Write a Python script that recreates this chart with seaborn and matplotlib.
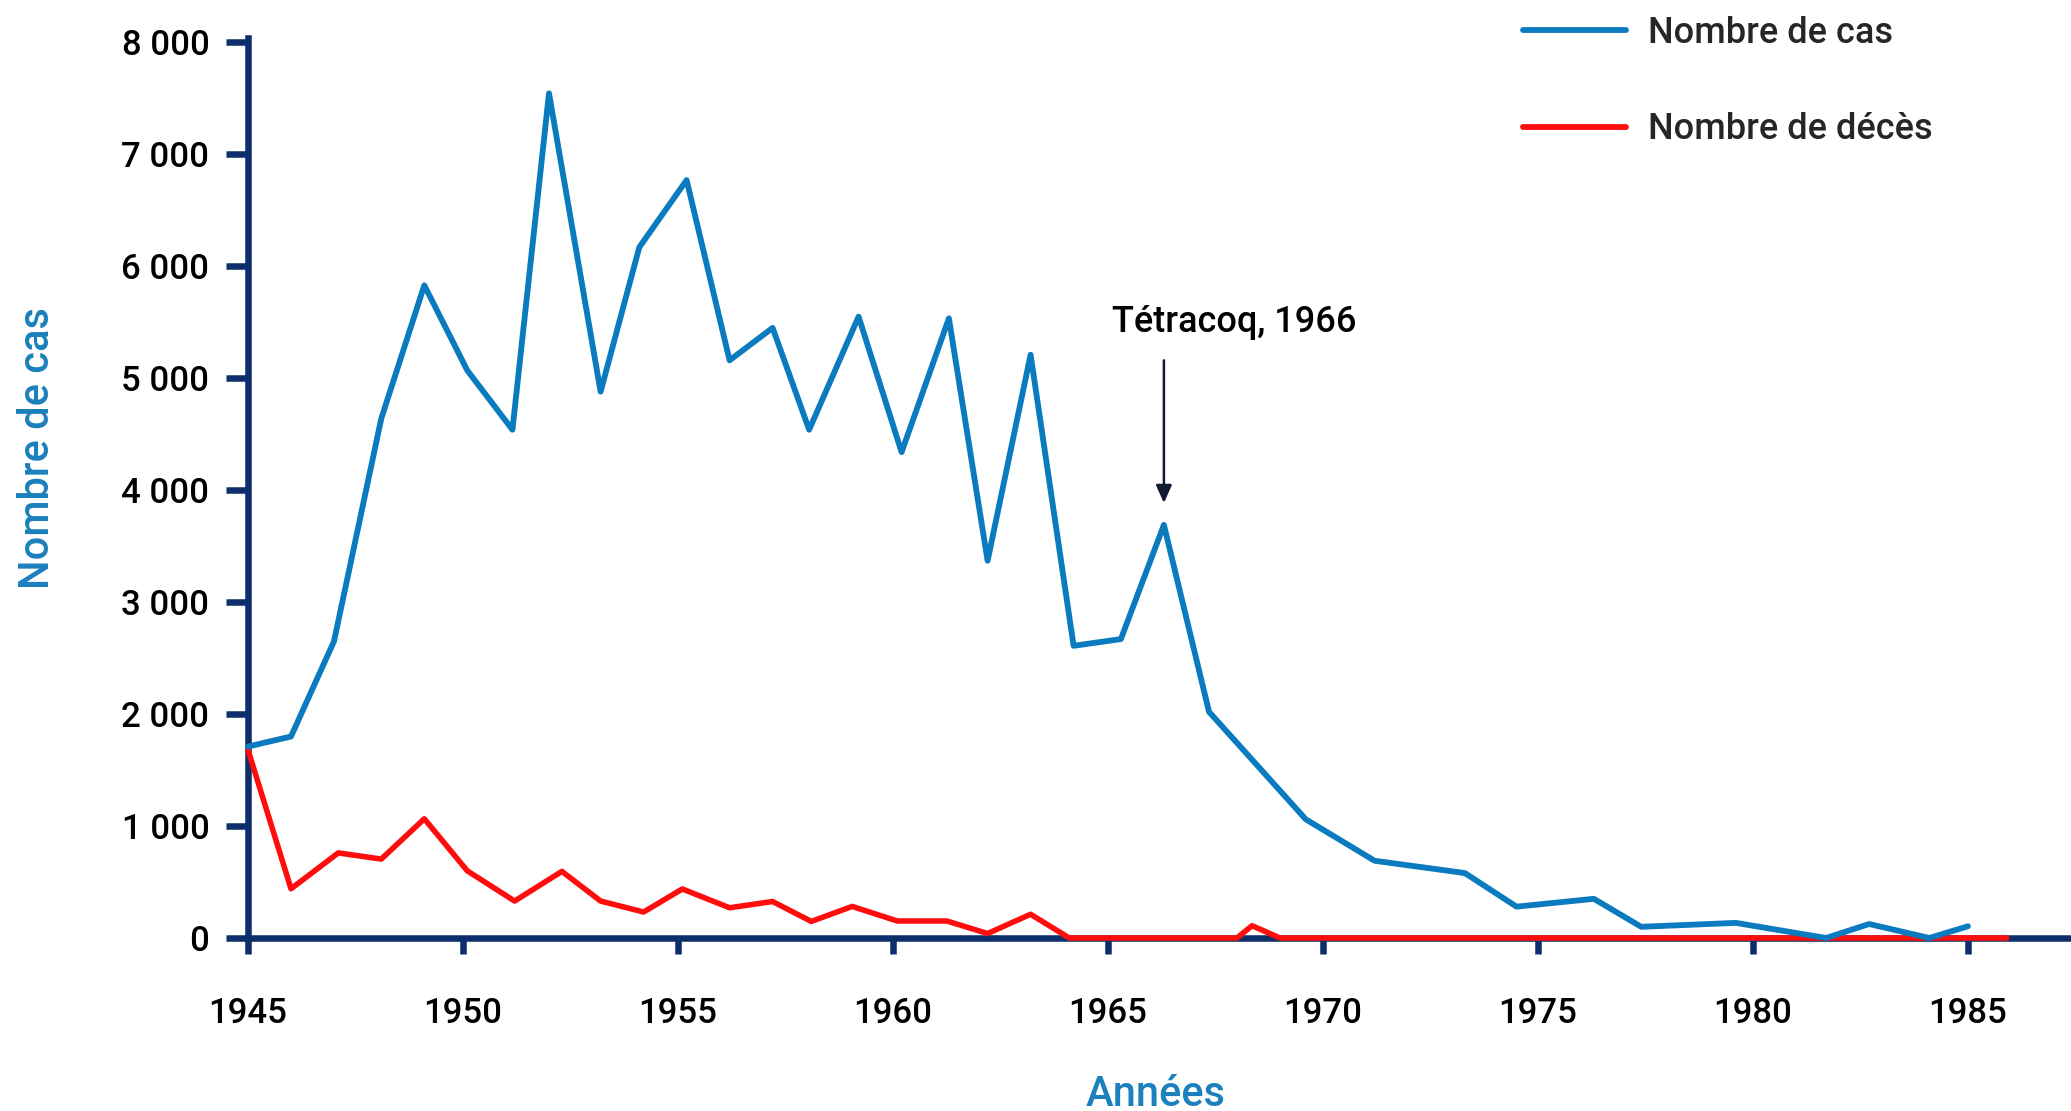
import matplotlib
matplotlib.use("Agg")
import matplotlib.pyplot as plt
import pandas as pd
import seaborn as sns

# ---------------- data ----------------
case_years = [1945.0, 1946.0, 1947.0, 1948.1, 1949.1, 1950.1, 1951.15, 1952.0,
              1953.2, 1954.1, 1955.2, 1956.2, 1957.2, 1958.05, 1959.2, 1960.2,
              1961.3, 1962.2, 1963.2, 1964.2, 1965.3, 1966.3, 1967.35, 1969.6,
              1971.2, 1973.3, 1974.5, 1976.3, 1977.4, 1979.6, 1981.7, 1982.7,
              1984.1, 1985.0]
case_counts = [1710, 1800, 2650, 4640, 5830, 5070, 4540, 7545,
               4880, 6170, 6770, 5160, 5450, 4540, 5550, 4340,
               5535, 3370, 5210, 2610, 2670, 3690, 2020, 1060,
               690, 580, 280, 350, 100, 135, 0, 125,
               0, 105]

death_years = [1945.0, 1946.0, 1947.1, 1948.1, 1949.1, 1950.1, 1951.2, 1952.3,
               1953.2, 1954.2, 1955.1, 1956.2, 1957.2, 1958.1, 1959.05, 1960.1,
               1961.25, 1962.2, 1963.2, 1964.1, 1968.0, 1968.35, 1969.0, 1985.9]
death_counts = [1680, 440, 760, 705, 1065, 600, 330, 595,
                330, 232, 438, 270, 326, 148, 282, 152,
                152, 40, 212, 0, 0, 110, 0, 0]

series_names = ["Nombre de cas", "Nombre de décès"]
y_ticks = [0, 1000, 2000, 3000, 4000, 5000, 6000, 7000, 8000]
y_tick_labels = ["0", "1 000", "2 000", "3 000", "4 000", "5 000", "6 000", "7 000", "8 000"]
x_ticks = [1945, 1950, 1955, 1960, 1965, 1970, 1975, 1980, 1985]
x_tick_labels = ["1945", "1950", "1955", "1960", "1965", "1970", "1975", "1980", "1985"]
x_title = "Années"
y_title = "Nombre de cas"
annotation_text = "Tétracoq, 1966"
annotated_index = 21  # the 1966 peak

# ---------------- style ----------------
BLUE = "#0b7bbf"
RED = "#ff0d0d"
NAVY = "#0c2f6b"
LABEL_BLUE = "#1b80bd"
ARROW = "#121a33"

sns.set_style("white")
plt.rcParams["font.family"] = ["Roboto", "DejaVu Sans"]
plt.rcParams["font.weight"] = 500

W, H = 2071, 1111
fig = plt.figure(figsize=(W / 100, H / 100), dpi=100)
ax = fig.add_axes([248 / W, (H - 938) / H, 1 - 248 / W, 900.1 / H])

cases_df = pd.DataFrame({"Année": case_years, "Valeur": case_counts})
deaths_df = pd.DataFrame({"Année": death_years, "Valeur": death_counts})

sns.lineplot(data=cases_df, x="Année", y="Valeur", ax=ax, color=BLUE,
             linewidth=4.2, sort=False, estimator=None, label=series_names[0],
             zorder=4, clip_on=False, solid_capstyle="round", solid_joinstyle="round")
sns.lineplot(data=deaths_df, x="Année", y="Valeur", ax=ax, color=RED,
             linewidth=4.0, sort=False, estimator=None, label=series_names[1],
             zorder=3, clip_on=False, solid_capstyle="round", solid_joinstyle="round")

ax.set_xlim(1945, 1945 + (W - 248) / 43.0)
ax.set_ylim(0, 8040)

for side in ("top", "right"):
    ax.spines[side].set_visible(False)
for side in ("left", "bottom"):
    ax.spines[side].set_color(NAVY)
    ax.spines[side].set_linewidth(4.7)
    ax.spines[side].set_zorder(2)

ax.set_yticks(y_ticks, y_tick_labels)
ax.set_xticks(x_ticks, x_tick_labels)
ax.tick_params(axis="y", direction="out", length=15.8, width=4.7, color=NAVY,
               pad=12, labelsize=25, labelcolor="black", left=True)
ax.tick_params(axis="x", direction="out", length=11.5, width=4.7, color=NAVY,
               pad=31, labelsize=25, labelcolor="black", bottom=True)
for lbl in ax.get_xticklabels() + ax.get_yticklabels():
    lbl.set_fontweight(500)
ax.grid(False)

ax.set_xlabel(x_title, fontsize=30, color=LABEL_BLUE, fontweight=500)
ax.set_ylabel(y_title, fontsize=30, color=LABEL_BLUE, fontweight=500)
ax.xaxis.set_label_coords(1156 / W, 1 - 1074 / H, transform=fig.transFigure)
ax.yaxis.set_label_coords(58 / W, 1 - 448 / H, transform=fig.transFigure)

# annotation
px = case_years[annotated_index]
pv = case_counts[annotated_index]
ax.annotate("", xy=(px, pv + 195), xytext=(px, pv + 1470),
            arrowprops=dict(arrowstyle="-|>,head_length=0.9,head_width=0.4",
                            color=ARROW, lw=1.8, shrinkA=0, shrinkB=0,
                            mutation_scale=12))
ax.text(px + 1.63, pv + 1720, annotation_text, ha="center", va="baseline",
        fontsize=26, color="black", fontweight=500)

# legend
handles, labels = ax.get_legend_handles_labels()
leg = ax.legend(handles, labels, loc="upper left", frameon=False,
                bbox_to_anchor=(1523 / W, 1 - 16 / H), bbox_transform=fig.transFigure,
                prop={"size": 26, "weight": 500}, handlelength=2.85, handletextpad=0.61,
                labelspacing=1.7, borderpad=0, borderaxespad=0)
for line in leg.get_lines():
    line.set_linewidth(4.2)
    line.set_solid_capstyle("round")

fig.savefig("out.png", dpi=100)
